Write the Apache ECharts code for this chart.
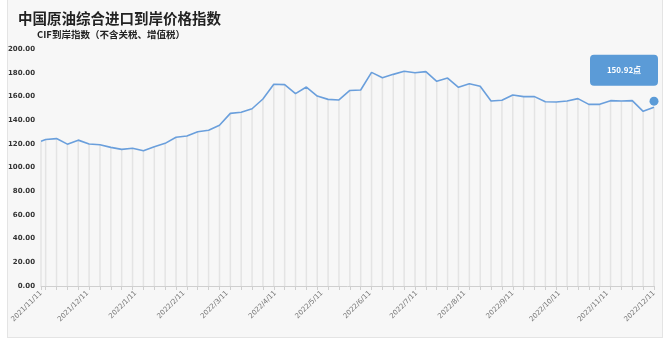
<!DOCTYPE html>
<html>
<head>
<meta charset="utf-8">
<script src="https://cdn.jsdelivr.net/npm/echarts@6/dist/echarts.min.js"></script>
<style>
  html, body { margin: 0; padding: 0; background: #ffffff; }
  #wrap { position: relative; width: 671px; height: 344px; overflow: hidden; }
  #frame { position: absolute; left: 7px; top: -1px; width: 656px; height: 339px; border: 1px solid #e4e4e4; background: #f7f7f7; box-sizing: border-box; }
  #chart { position: absolute; left: 0; top: 0; width: 671px; height: 344px; }
</style>
</head>
<body>
<div id="wrap">
  <div id="frame"></div>
  <div id="chart"></div>
</div>
<script>
// ---- data ----
const titleText = '中国原油综合进口到岸价格指数';
const subtitleText = 'CIF到岸指数（不含关税、增值税）';
const dates = [
  '2021-11-11','2021-11-14','2021-11-21','2021-11-28','2021-12-05','2021-12-12','2021-12-19','2021-12-26',
  '2022-01-02','2022-01-09','2022-01-16','2022-01-23','2022-01-30',
  '2022-02-06','2022-02-13','2022-02-20','2022-02-27',
  '2022-03-06','2022-03-13','2022-03-20','2022-03-27',
  '2022-04-03','2022-04-10','2022-04-17','2022-04-24',
  '2022-05-01','2022-05-08','2022-05-15','2022-05-22','2022-05-29',
  '2022-06-05','2022-06-12','2022-06-19','2022-06-26',
  '2022-07-03','2022-07-10','2022-07-17','2022-07-24','2022-07-31',
  '2022-08-07','2022-08-14','2022-08-21','2022-08-28',
  '2022-09-04','2022-09-11','2022-09-18','2022-09-25',
  '2022-10-02','2022-10-09','2022-10-16','2022-10-23','2022-10-30',
  '2022-11-06','2022-11-13','2022-11-20','2022-11-27',
  '2022-12-04','2022-12-11'
];
const values = [
  122.2,123.6,124.4,119.7,123.1,119.8,119.2,117.0,
  115.3,116.2,114.2,117.6,120.4,
  125.5,126.6,130.2,131.4,
  135.6,145.7,146.6,149.6,
  157.8,170.2,169.9,162.3,
  167.9,160.3,157.5,157.0,165.0,
  165.4,180.3,175.8,178.6,
  181.2,180.0,180.9,172.7,175.5,
  167.7,170.7,168.5,156.1,
  156.7,161.2,159.8,159.8,
  155.5,155.3,156.1,158.1,153.3,
  153.3,156.4,156.1,156.4,
  147.4,150.92
];
const labelDates = [
  '2021-11-11','2021-12-11','2022-01-11','2022-02-11','2022-03-11','2022-04-11','2022-05-11',
  '2022-06-11','2022-07-11','2022-08-11','2022-09-11','2022-10-11','2022-11-11','2022-12-11'
];
const lastLabel = '150.92点';

// ---- helpers ----
function ts(s) { const p = s.split('-').map(Number); return Date.UTC(p[0], p[1]-1, p[2]); }
function fmt(v) { const d = new Date(v); return d.getUTCFullYear() + '/' + (d.getUTCMonth()+1) + '/' + d.getUTCDate(); }

const pts = dates.map((d, i) => [ts(d), values[i]]);
const lastIdx = values.length - 1;

const chart = echarts.init(document.getElementById('chart'), null, {renderer: 'canvas'});
chart.setOption({
  backgroundColor: 'transparent',
  animation: false,
  title: [
    { text: titleText, left: 13, top: 6,
      textStyle: { fontFamily: 'Noto Sans CJK SC', fontSize: 14.5, fontWeight: 'bold', color: '#222' } },
    { text: subtitleText, left: 32, top: 25,
      textStyle: { fontFamily: 'Noto Sans CJK SC', fontSize: 9.5, fontWeight: 'bold', color: '#222' } }
  ],
  grid: { left: 41, right: 17, top: 49, bottom: 58, containLabel: false },
  xAxis: {
    type: 'value',
    min: ts(labelDates[0]),
    max: ts(labelDates[labelDates.length - 1]),
    axisLine: { show: true, lineStyle: { color: '#cfcfcf', width: 1 } },
    axisTick: { show: true, customValues: dates.map(ts), length: 4, lineStyle: { color: '#cfcfcf' } },
    axisLabel: {
      customValues: labelDates.map(ts), rotate: 45, fontSize: 7, color: '#777',
      fontFamily: 'DejaVu Sans', margin: 6, formatter: v => fmt(v), hideOverlap: false
    },
    splitLine: { show: false }
  },
  yAxis: {
    type: 'value', min: 0, max: 200, interval: 20,
    axisLine: { show: false }, axisTick: { show: false }, splitLine: { show: false },
    axisLabel: { fontSize: 7, fontWeight: 'bold', color: '#333', fontFamily: 'DejaVu Sans', margin: 6,
      formatter: v => v.toFixed(2) }
  },
  series: [
    { type: 'bar', data: pts, barWidth: 1.5, itemStyle: { color: '#e4e4e4' }, silent: true, z: 1 },
    { type: 'line', data: pts, showSymbol: false, symbol: 'none', z: 3,
      lineStyle: { color: '#6a9fdc', width: 1.6 },
      markPoint: {
        symbol: 'circle', symbolSize: 9, symbolOffset: [0, -6],
        itemStyle: { color: '#5b9bd7' },
        data: [{ coord: pts[lastIdx], value: values[lastIdx] }],
        label: {
          show: true, position: 'inside', offset: [-30, -31],
          formatter: lastLabel, color: '#fff', fontSize: 8, fontWeight: 'bold',
          fontFamily: 'Noto Sans CJK SC',
          backgroundColor: '#5b9bd7', borderRadius: 4,
          width: 40, align: 'center', padding: [11, 14], lineHeight: 9
        }
      }
    }
  ]
});
</script>
</body>
</html>
